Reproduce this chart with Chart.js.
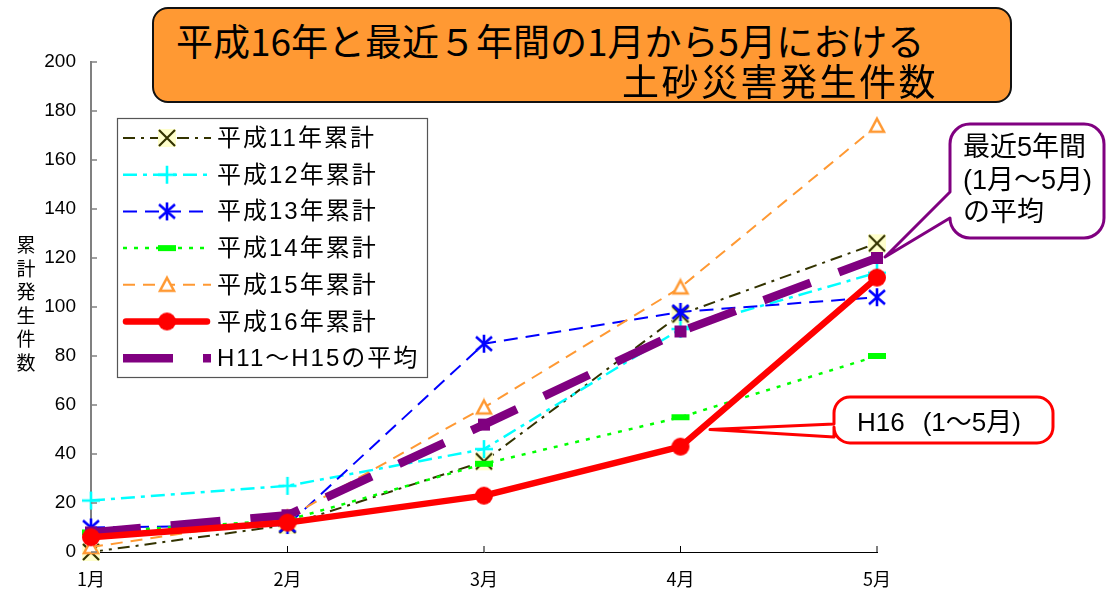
<!DOCTYPE html>
<html><head><meta charset="utf-8">
<script src="https://cdn.jsdelivr.net/npm/chart.js@4/dist/chart.umd.min.js"></script>
<style>
html,body{margin:0;padding:0;background:#fff;}
#wrap{position:relative;width:1106px;height:592px;overflow:hidden;background:#fff;}
#c{position:absolute;left:0;top:0;}
.abs{position:absolute;white-space:pre;color:#000;}
#title{position:absolute;left:152px;top:7px;width:860px;height:96px;background:#FF9933;border:2px solid #111;border-radius:16px;box-sizing:border-box;}
.t{font-family:"Noto Sans CJK JP";font-size:37px;line-height:38px;}
.leg{font-family:"Liberation Sans","Noto Sans CJK JP";font-size:24px;line-height:30px;letter-spacing:2px;}
.co{font-family:"Liberation Sans","Noto Sans CJK JP";font-size:27px;line-height:32.5px;}
#ytitle{position:absolute;left:11px;top:232px;width:30px;text-align:center;font-family:"Noto Sans CJK JP";font-size:19px;line-height:23.5px;color:#000;}
</style>
</head><body>
<div id="wrap">
<canvas id="c" width="1106" height="592"></canvas>
<div id="title"></div>
<div class="abs t" style="left:176px;top:21px;">平成16年と最近５年間の1月から5月における</div>
<div class="abs t" style="left:622px;top:61px;letter-spacing:2.5px;">土砂災害発生件数</div>
<div id="ytitle">累<br>計<br>発<br>生<br>件<br>数</div>
<div id="legtext"></div>
<div class="abs co" style="left:963px;top:131px;">最近5年間
(1月～5月)
の平均</div>
<div class="abs co" style="left:857px;top:406px;font-size:26px;">H16<span style="margin-left:18px">(1～5月)</span></div>
</div>
<script>
// ---- data ----
const months = ['1月','2月','3月','4月','5月'];
const seriesNames = ['平成11年累計','平成12年累計','平成13年累計','平成14年累計','平成15年累計','平成16年累計','H11～H15の平均'];
const h11 = [0, 11, 37, 97, 126];
const h12 = [21, 27, 42, 91, 114];
const h13 = [10, 11, 85, 98, 104];
const h14 = [8, 13, 36, 55, 80];
const h15 = [2, 14, 59, 108, 174];
const h16 = [6, 12, 23, 43, 112];
const avg = [8, 15, 52, 90, 120];
const yMin = 0, yMax = 200, yStep = 20;

// ---- marker images ----
function mk(w, h, draw){ const c=document.createElement('canvas'); c.width=w; c.height=h; const g=c.getContext('2d'); draw(g,w/2,h/2); return c; }
const mX = mk(20,20,(g,cx,cy)=>{g.fillStyle='#FFFFCC';g.fillRect(cx-9,cy-9,18,18);g.strokeStyle='#333300';g.lineWidth=2.2;g.beginPath();g.moveTo(cx-8,cy-8);g.lineTo(cx+8,cy+8);g.moveTo(cx+8,cy-8);g.lineTo(cx-8,cy+8);g.stroke();});
const mPlus = mk(22,22,(g,cx,cy)=>{g.strokeStyle='#00FFFF';g.lineWidth=2.6;g.beginPath();g.moveTo(cx-9,cy);g.lineTo(cx+9,cy);g.moveTo(cx,cy-9);g.lineTo(cx,cy+9);g.stroke();});
const mStar = mk(22,22,(g,cx,cy)=>{g.strokeStyle='#0000FF';g.lineWidth=2.6;g.beginPath();g.moveTo(cx-8,cy-7);g.lineTo(cx+8,cy+7);g.moveTo(cx+8,cy-7);g.lineTo(cx-8,cy+7);g.moveTo(cx,cy-9);g.lineTo(cx,cy+9);g.stroke();});
const mBar = mk(20,8,(g,cx,cy)=>{g.fillStyle='#00FF00';g.fillRect(cx-9,cy-3,18,6);});
const mTri = mk(20,20,(g,cx,cy)=>{g.strokeStyle='#FF9933';g.fillStyle='#fff';g.lineWidth=2.5;g.beginPath();g.moveTo(cx,cy-7);g.lineTo(cx+7,cy+6);g.lineTo(cx-7,cy+6);g.closePath();g.fill();g.stroke();});
const mDot = mk(20,20,(g,cx,cy)=>{g.fillStyle='#FF0000';g.beginPath();g.arc(cx,cy,9,0,Math.PI*2);g.fill();});
const mSq = mk(14,14,(g,cx,cy)=>{g.fillStyle='#800080';g.fillRect(cx-6,cy-6,12,12);});

const styles = [
  {data:h11, color:'#333300', width:2,   dash:[12,6,3,6], marker:mX},
  {data:h12, color:'#00FFFF', width:2.5, dash:[14,6,4,6], marker:mPlus},
  {data:h13, color:'#0000FF', width:2,   dash:[14,8],     marker:mStar},
  {data:h14, color:'#00FF00', width:2.5, dash:[4,7],      marker:mBar},
  {data:h15, color:'#FF9933', width:2,   dash:[12,8],     marker:mTri},
  {data:h16, color:'#FF0000', width:6.5, dash:[],         marker:mDot},
  {data:avg, color:'#800080', width:8.5, dash:[50,30],    marker:mSq}
];
const order = [0,1,2,3,4,6,5];
const datasets = styles.map((s,i)=>({
  label: seriesNames[i], data: s.data, borderColor: s.color, backgroundColor: s.color,
  borderWidth: s.width, borderDash: s.dash, borderCapStyle: i===5?'round':'butt', borderJoinStyle:'round',
  pointStyle: s.marker, pointRadius: 9, pointHoverRadius: 9, tension: 0, fill: false, clip: false,
  order: 10 - order.indexOf(i)
}));

// legend text (HTML)
const legX = 217, legY0 = 138, legDY = 36.7;
const lt = document.getElementById('legtext');
seriesNames.forEach((n,i)=>{ const d=document.createElement('div'); d.className='abs leg'; d.textContent=n; d.style.left=legX+'px'; d.style.top=(legY0+i*legDY-15)+'px'; lt.appendChild(d); });

const inwardTicks = {
  id:'inwardTicks',
  afterDatasetsDraw(chart){
    const {ctx, chartArea:a, scales:{x,y}} = chart;
    ctx.save();
    ctx.strokeStyle='#808080'; ctx.lineWidth=1.5;
    y.ticks.forEach(t=>{ const py=y.getPixelForValue(t.value); ctx.beginPath(); ctx.moveTo(a.left,py); ctx.lineTo(a.left+6,py); ctx.stroke(); });
    ctx.strokeStyle='#000'; ctx.lineWidth=1;
    x.ticks.forEach((t,i)=>{ if(i===0) return; const px=x.getPixelForValue(i); ctx.beginPath(); ctx.moveTo(px,a.bottom); ctx.lineTo(px,a.bottom-6); ctx.stroke(); });
    ctx.restore();
  }
};

function callout(ctx, x0,y0,x1,y1,r, py0,py1, tx,ty, color, lw){
  ctx.beginPath();
  ctx.moveTo(x0+r,y0);
  ctx.lineTo(x1-r,y0); ctx.arcTo(x1,y0,x1,y0+r,r);
  ctx.lineTo(x1,y1-r); ctx.arcTo(x1,y1,x1-r,y1,r);
  ctx.lineTo(x0+r,y1); ctx.arcTo(x0,y1,x0,y1-r,r);
  ctx.lineTo(x0,py1); ctx.lineTo(tx,ty); ctx.lineTo(x0,py0);
  ctx.lineTo(x0,y0+r); ctx.arcTo(x0,y0,x0+r,y0,r);
  ctx.closePath();
  ctx.fillStyle='#fff'; ctx.fill();
  ctx.strokeStyle=color; ctx.lineWidth=lw; ctx.lineJoin='round'; ctx.stroke();
}

const overlay = {
  id:'overlay',
  afterDraw(chart){
    const {ctx, scales:{x,y}} = chart;
    ctx.save();
    ctx.fillStyle='#fff'; ctx.fillRect(117,118,311,260);
    ctx.strokeStyle='#555'; ctx.lineWidth=1.2; ctx.strokeRect(117.5,118.5,310,259);
    styles.forEach((s,i)=>{
      const cy = legY0 + i*legDY;
      ctx.save();
      ctx.strokeStyle=s.color; ctx.lineWidth=s.width; ctx.setLineDash(s.dash); ctx.lineCap = i===5?'round':'butt';
      ctx.beginPath(); ctx.moveTo(i===5?126:123,cy); ctx.lineTo(i===5?207:211,cy); ctx.stroke();
      ctx.restore();
      if (i !== 6) ctx.drawImage(s.marker, 167 - s.marker.width/2, cy - s.marker.height/2);
    });
    const ax = x.getPixelForValue(4)+8, ay = y.getPixelForValue(avg[4])-1;
    callout(ctx, 950,124,1104,238,20, 192,218, ax,ay, '#800080', 3);
    const hx = x.getPixelForValue(3) + 0.15*(x.getPixelForValue(4)-x.getPixelForValue(3));
    const hy = y.getPixelForValue(50);
    callout(ctx, 834,397,1053,443,16, 424,437, hx,hy, '#FF0000', 3);
    ctx.restore();
  }
};

new Chart(document.getElementById('c'), {
  type:'line',
  data:{labels: months, datasets},
  options:{
    responsive:false, animation:false, devicePixelRatio:1,
    layout:{padding:{left:0,right:229,top:62,bottom:0}},
    plugins:{legend:{display:false}, tooltip:{enabled:false}, title:{display:false}},
    scales:{
      x:{type:'category', offset:false,
         grid:{display:false, drawTicks:false},
         border:{display:true, color:'#000', width:1},
         ticks:{padding:16, color:'#000', font:{family:'Noto Sans CJK JP', size:18}},
         afterFit(s){ s.height = 40; }},
      y:{min:yMin, max:yMax,
         grid:{display:false, drawTicks:false},
         border:{display:true, color:'#808080', width:2},
         ticks:{stepSize:yStep, padding:15, color:'#000', font:{family:'Liberation Sans', size:19}},
         afterFit(s){ s.width = 91; }}
    }
  },
  plugins:[inwardTicks, overlay]
});
</script>
</body></html>
